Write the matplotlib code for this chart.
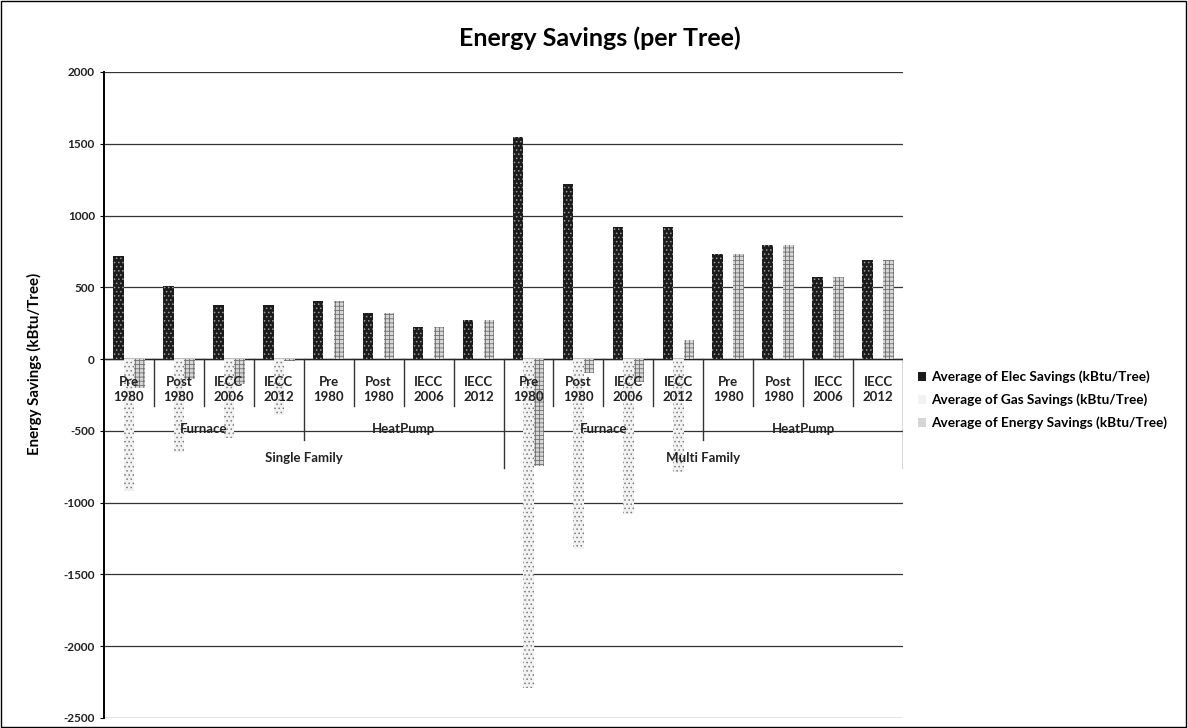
import matplotlib
matplotlib.use("Agg")
import matplotlib.pyplot as plt
import numpy as np
from matplotlib.patches import Rectangle, Patch

plt.rcParams['font.family'] = ['Lato', 'DejaVu Sans']
plt.rcParams['hatch.linewidth'] = 0.6

# Category hierarchy
families = ["Single Family", "Multi Family"]
systems = ["Furnace", "HeatPump"]
vintages = ["Pre\n1980", "Post\n1980", "IECC\n2006", "IECC\n2012"]

# Savings per tree (kBtu/Tree), ordered SF-Furnace, SF-HeatPump, MF-Furnace, MF-HeatPump
elec_savings = [720, 510, 378, 378, 405, 322, 224, 272,
                1545, 1222, 922, 922, 733, 796, 573, 691]
gas_savings = [-920, -650, -548, -390, 0, 0, 0, 0,
               -2290, -1320, -1078, -785, 0, 0, 0, 0]
energy_savings = [-200, -140, -170, -12, 405, 322, 224, 272,
                  -745, -98, -156, 133, 733, 796, 573, 691]

series_names = ["Average of Elec Savings (kBtu/Tree)",
                "Average of Gas Savings (kBtu/Tree)",
                "Average of Energy Savings (kBtu/Tree)"]

fig = plt.figure(figsize=(11.88, 7.28), dpi=100)
ax = fig.add_axes([104/1188, 10/728, (903-104)/1188, (718-72)/728])

n = len(elec_savings)
x = np.arange(n) + 0.5
w = 0.21

elec_style = dict(color="#1b1b1b", edgecolor="#9a9a9a", hatch="....")
gas_style = dict(color="#f2f2f2", edgecolor="#7c7c7c", hatch="....")
energy_style = dict(color="#d6d6d6", edgecolor="#6e6e6e", hatch="++++")

ax.bar(x - w, elec_savings, width=w, linewidth=0, zorder=3, **elec_style)
ax.bar(x, gas_savings, width=w, linewidth=0, zorder=3, **gas_style)
ax.bar(x + w, energy_savings, width=w, linewidth=0, zorder=3, **energy_style)

ax.set_xlim(0, n)
ax.set_ylim(-2500, 2000)
ticks = np.arange(-2500, 2001, 500)
ax.set_yticks(ticks)
ax.set_yticklabels([str(v) for v in ticks],
                   fontsize=8.5, fontweight="bold", color="#222222")
ax.yaxis.grid(True, color="#333333", linewidth=0.9, zorder=0)
ax.set_xticks([])
ax.tick_params(axis="y", length=3, width=0.8)
for s in ["top", "right", "bottom"]:
    ax.spines[s].set_visible(False)
ax.spines["left"].set_linewidth(1.4)
ax.set_axisbelow(True)

# Zero line
ax.axhline(0, color="#222222", linewidth=1.0, zorder=2)

# Multi-level category labels drawn under the zero line
label_kw = dict(ha="center", va="center", fontsize=9.5, fontweight="bold",
                color="#222222", zorder=5, linespacing=1.3)
for i in range(n):
    ax.text(x[i], -210, vintages[i % 4], **label_kw)
for j in range(n // 4):
    ax.text(4 * j + 2, -485, systems[j % 2], **label_kw)
for k in range(n // 8):
    ax.text(8 * k + 4, -690, families[k], **label_kw)

sep_kw = dict(color="#333333", linewidth=1.0, zorder=4)
for b in range(1, n + 1):
    if b % 8 == 0:
        depth = -760
    elif b % 4 == 0:
        depth = -560
    else:
        depth = -330
    ax.plot([b, b], [0, depth], **sep_kw)

ax.set_ylabel("Energy Savings (kBtu/Tree)", fontsize=10.8, fontweight="bold")
ax.yaxis.set_label_coords(-0.0776, 0.548)

fig.text(600/1188, 1 - 38/728, "Energy Savings (per Tree)", ha="center",
         va="center", fontsize=18, fontweight="bold")

handles = [Patch(linewidth=0, **elec_style),
           Patch(linewidth=0, **gas_style),
           Patch(linewidth=0, **energy_style)]
fig.legend(handles, series_names, loc="center left",
           bbox_to_anchor=(918/1188, 1 - 400/728), frameon=False,
           borderpad=0, borderaxespad=0,
           prop={"size": 9.8, "weight": "bold"}, handlelength=0.6,
           handleheight=0.6, handletextpad=0.35, labelspacing=0.75)

fig.add_artist(Rectangle((0.001, 0.002), 0.997, 0.996, transform=fig.transFigure,
                         fill=False, edgecolor="black", linewidth=1.0))

fig.savefig("out.png", dpi=100)
